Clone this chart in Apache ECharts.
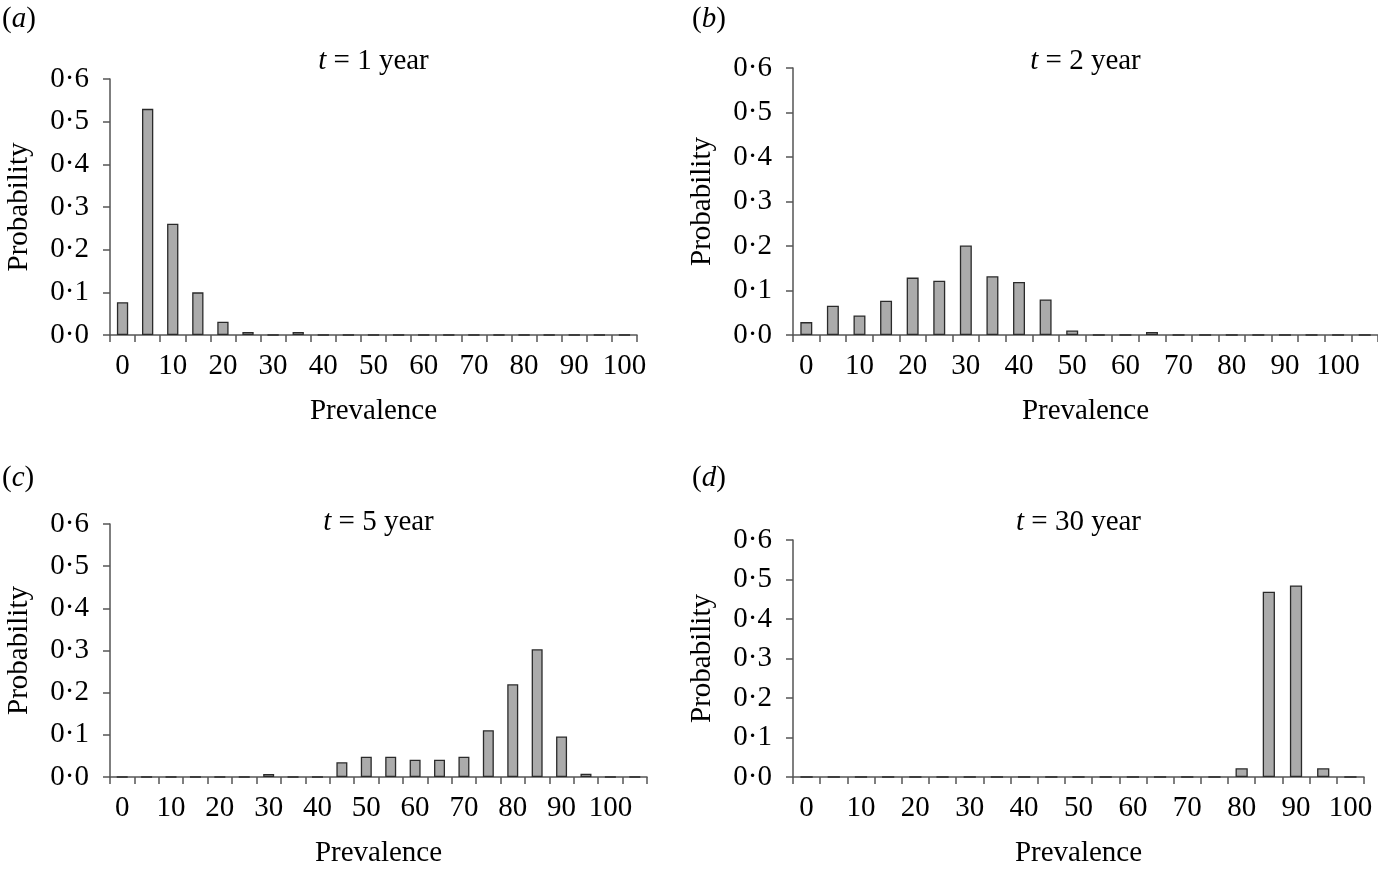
<!DOCTYPE html>
<html><head><meta charset="utf-8">
<script src="https://cdn.jsdelivr.net/npm/echarts@6/dist/echarts.min.js"></script>
<style>html,body{margin:0;padding:0;background:#fff}#c{width:1378px;height:869px}</style>
</head><body><div id="c"></div>
<script>
// Categories (prevalence, %)
const prevalence21 = ['0','5','10','15','20','25','30','35','40','45','50','55','60','65','70','75','80','85','90','95','100'];
const prevalence22 = ['0','5','10','15','20','25','30','35','40','45','50','55','60','65','70','75','80','85','90','95','100','105'];
const yTicks = [0, 0.1, 0.2, 0.3, 0.4, 0.5, 0.6];

// Probability per prevalence category
const probT1  = [0.077, 0.530, 0.261, 0.100, 0.031, 0.007, 0, 0.007, 0, 0, 0, 0, 0, 0, 0, 0, 0, 0, 0, 0, 0];
const probT2  = [0.029, 0.066, 0.044, 0.077, 0.129, 0.122, 0.201, 0.132, 0.119, 0.080, 0.010, 0, 0, 0.007, 0, 0, 0, 0, 0, 0, 0, 0];
const probT5  = [0, 0, 0, 0, 0, 0, 0.007, 0, 0, 0.035, 0.048, 0.048, 0.041, 0.041, 0.048, 0.111, 0.220, 0.303, 0.096, 0.008, 0, 0];
const probT30 = [0, 0, 0, 0, 0, 0, 0, 0, 0, 0, 0, 0, 0, 0, 0, 0, 0.022, 0.469, 0.485, 0.022, 0];

const panelTitles = ['1', '2', '5', '30'];
const panelLetters = ['a', 'b', 'c', 'd'];

const FONT = "'Liberation Serif','DejaVu Serif',serif";
const FS = 29;

const grids = [
  {left: 110, top: 79, width: 527, height: 256},
  {left: 793, top: 68, width: 585, height: 267},
  {left: 110, top: 524, width: 537, height: 255},
  {left: 793, top: 540, width: 571, height: 238}
];
const cats = [prevalence21, prevalence22, prevalence22, prevalence21];
const datas = [probT1, probT2, probT5, probT30];

const axisLineStyle = {color: '#555', width: 1.5};

const xAxes = grids.map((g, i) => ({
  type: 'category', gridIndex: i, data: cats[i], boundaryGap: true,
  name: 'Prevalence', nameLocation: 'middle', nameGap: 62,
  nameTextStyle: {fontFamily: FONT, fontSize: FS, color: '#000'},
  axisLine: {show: true, lineStyle: axisLineStyle},
  axisTick: {show: true, interval: 0, length: 7, lineStyle: axisLineStyle},
  axisLabel: {interval: 1, margin: 17, fontFamily: FONT, fontSize: FS, color: '#000'},
  splitLine: {show: false}
}));
const yAxes = grids.map((g, i) => ({
  type: 'value', gridIndex: i, min: yTicks[0], max: yTicks[yTicks.length - 1], interval: 0.1,
  name: 'Probability', nameLocation: 'middle', nameGap: 76, nameRotate: 90,
  nameTextStyle: {fontFamily: FONT, fontSize: FS, color: '#000'},
  axisLine: {show: true, lineStyle: axisLineStyle},
  axisTick: {show: true, length: 7, lineStyle: axisLineStyle},
  axisLabel: {margin: 21, fontFamily: FONT, fontSize: FS, color: '#000',
    formatter: v => v.toFixed(1).replace('.', '\u00B7')},
  splitLine: {show: false}
}));
const series = datas.map((d, i) => ({
  type: 'bar', xAxisIndex: i, yAxisIndex: i, data: d, barWidth: '45%',
  itemStyle: {color: '#ababab', borderColor: '#2a2a2a', borderWidth: 1.3},
  silent: true, animation: false
}));

const rich = {i: {fontStyle: 'italic', fontFamily: FONT, fontSize: FS, color: '#000'}};
const graphics = [];
grids.forEach((g, i) => {
  graphics.push({
    type: 'text', x: g.left + g.width / 2, y: i < 2 ? 61 : 522,
    style: {text: '{i|t} = ' + panelTitles[i] + ' year', rich, font: FS + 'px ' + FONT,
      fill: '#000', align: 'center', verticalAlign: 'middle'}
  });
  graphics.push({
    type: 'text', x: i % 2 === 0 ? 2 : 692, y: i < 2 ? 19 : 478,
    style: {text: '({i|' + panelLetters[i] + '})', rich, font: FS + 'px ' + FONT,
      fill: '#000', align: 'left', verticalAlign: 'middle'}
  });
});

const chart = echarts.init(document.getElementById('c'), null, {renderer: 'canvas'});
chart.setOption({
  animation: false,
  backgroundColor: '#fff',
  grid: grids.map(g => Object.assign({containLabel: false}, g)),
  xAxis: xAxes, yAxis: yAxes, series,
  graphic: graphics
});
</script></body></html>
